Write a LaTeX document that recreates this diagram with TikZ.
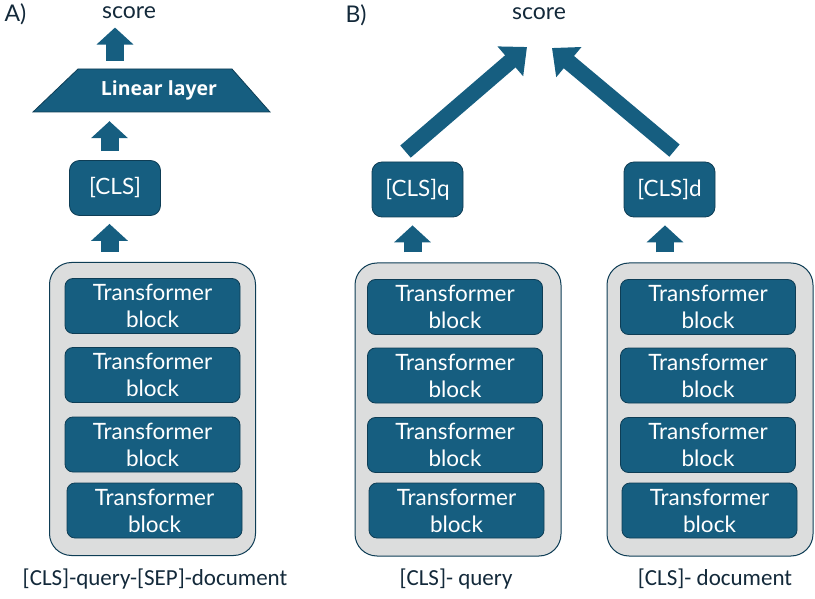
\documentclass[tikz,border=0pt]{standalone}
\usepackage{fontspec}
\setmainfont{Lato}
\newfontfamily\capfont{Carlito}
\newfontfamily\boldfont{Open Sans}
\usetikzlibrary{arrows.meta}

\definecolor{tblue}{HTML}{165E80}
\definecolor{tedge}{HTML}{0E3D55}
\definecolor{tgray}{HTML}{DCDDDD}
\definecolor{tink}{HTML}{13293A}

\tikzset{
  tblock/.style={draw=tedge, fill=tblue, rounded corners=8pt, text=white, align=center,
    minimum width=175pt, minimum height=55pt, line width=0.8pt,
    font=\fontsize{22.5}{27}\selectfont},
  clsbox/.style={draw=tedge, fill=tblue, rounded corners=10pt, text=white,
    minimum width=91pt, minimum height=55pt, line width=0.8pt,
    font=\fontsize{22.5}{26}\selectfont},
  stackbox/.style={draw=tedge, fill=tgray, rounded corners=22pt,
    minimum width=206pt, minimum height=293pt, line width=1pt},
  txt/.style={text=tink, font=\fontsize{23}{26}\selectfont},
  captxt/.style={text=tink, font=\capfont\fontsize{23}{26}\selectfont},
  fatarrow/.style={draw=tblue, line width=18pt, -{Triangle[width=36pt,length=17pt]}},
  slantarrow/.style={draw=tblue, line width=16pt, -{Triangle[width=38pt,length=22pt]}},
}

\begin{document}
\begin{tikzpicture}[x=1pt, y=-1pt]
\useasboundingbox (0,0) rectangle (815,599);

% A) cross-encoder
\node[txt, anchor=west] (pa) at (1,14) {A)};
\node[txt] (scorea) at (129,13) {score};
\draw[draw=tedge, fill=tblue, line width=0.8pt] (33,112) -- (78,69) -- (232,69) -- (270,112) -- cycle;
\node[text=white, minimum height=43pt, inner sep=0pt,
  font=\boldfont\bfseries\fontsize{19.5}{22}\selectfont] (lin) at (159,90.5) {Linear layer};
\node[clsbox] (cls) at (115,188) {[CLS]};
\node[stackbox] (stacka) at (152.5,409) {};
\node[tblock] (a1) at (152.5,306) {Transformer\\block};
\node[tblock] (a2) at (152.5,375) {Transformer\\block};
\node[tblock] (a3) at (152.5,444.5) {Transformer\\block};
\node[tblock] (a4) at (154.5,510.5) {Transformer\\block};
\node[captxt] (ina) at (155,579) {[CLS]-query-[SEP]-document};

\coordinate (ax) at (109.5,0);
\coordinate (bx) at (115,0);
\draw[fatarrow, shorten <=10pt, shorten >=8pt] (stacka.north -| ax) -- (cls.south -| ax);
\draw[fatarrow, shorten <=9pt, shorten >=9pt] (cls.north -| ax) -- (lin.south -| ax);
\draw[fatarrow, shorten <=8pt, shorten >=5pt] (lin.north -| bx) -- (scorea.south -| bx);

% B) bi-encoder
\node[txt, anchor=west] (pb) at (342,15) {B)};
\node[txt] (scoreb) at (539,14) {score};
\node[clsbox] (clsq) at (417.5,189.5) {[CLS]q};
\node[clsbox] (clsd) at (669.5,189.5) {[CLS]d};
\node[stackbox] (stackq) at (458,409.5) {};
\node[tblock] (q1) at (455,307) {Transformer\\block};
\node[tblock] (q2) at (455,375.5) {Transformer\\block};
\node[tblock] (q3) at (455,445) {Transformer\\block};
\node[tblock] (q4) at (456.5,510.5) {Transformer\\block};
\node[stackbox] (stackd) at (710,409.5) {};
\node[tblock] (d1) at (708,307) {Transformer\\block};
\node[tblock] (d2) at (708,375.5) {Transformer\\block};
\node[tblock] (d3) at (708,445) {Transformer\\block};
\node[tblock] (d4) at (709.5,510.5) {Transformer\\block};
\node[captxt] (inq) at (456,579) {[CLS]- query};
\node[captxt] (ind) at (715,579) {[CLS]- document};

\coordinate (qx) at (412.5,0);
\coordinate (dx) at (665,0);
\coordinate (qtip) at (527,47);
\coordinate (dtip) at (552,48);
\draw[fatarrow, shorten <=10pt, shorten >=8pt] (stackq.north -| qx) -- (clsq.south -| qx);
\draw[fatarrow, shorten <=10pt, shorten >=8pt] (stackd.north -| dx) -- (clsd.south -| dx);
\draw[slantarrow] ([xshift=-12pt, yshift=10pt]clsq.north) -- (qtip);
\draw[slantarrow] ([xshift=5pt, yshift=11pt]clsd.north) -- (dtip);
\end{tikzpicture}
\end{document}
